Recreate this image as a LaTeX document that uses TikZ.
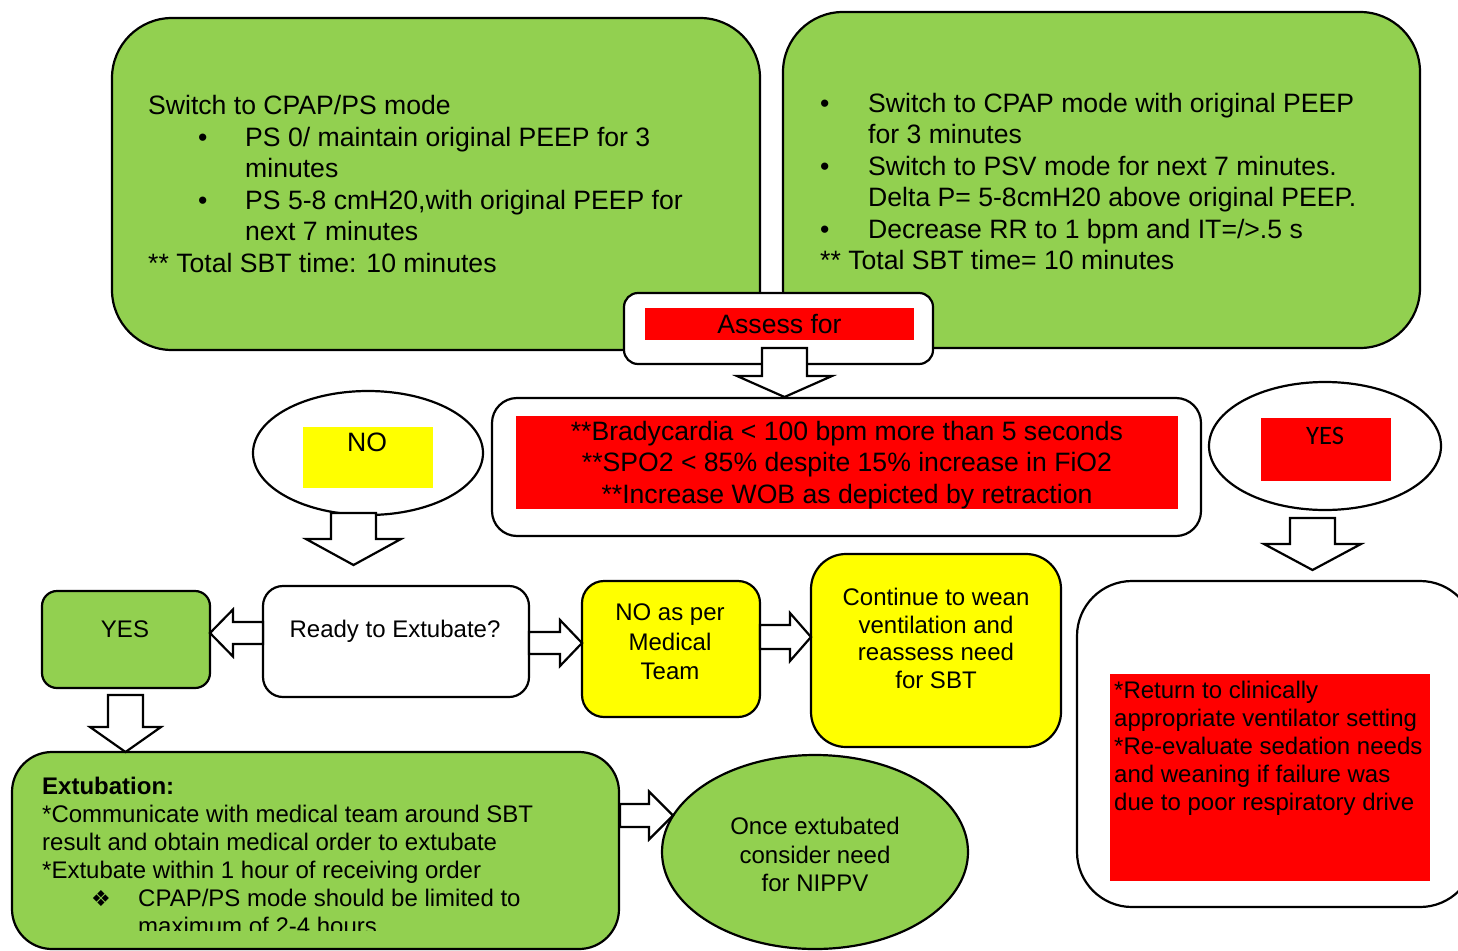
\documentclass[tikz,border=0pt]{standalone}
\usepackage{fontspec}
\setmainfont{Liberation Sans}
\newfontfamily\yesfont{Carlito}
\newfontfamily\dingfont{DejaVu Sans}
\usetikzlibrary{shapes.geometric}
\definecolor{sbtgreen}{RGB}{146,208,80}
\definecolor{sbtred}{RGB}{255,0,0}
\definecolor{sbtyellow}{RGB}{255,255,0}
\tikzset{
  bigtext/.style={font=\fontsize{26.6pt}{31.5pt}\selectfont},
  smalltext/.style={font=\fontsize{24pt}{28pt}\selectfont},
  box/.style={draw, rectangle, line width=2.2pt, inner sep=0pt, outer sep=0pt},
  greenbox/.style={box, fill=sbtgreen},
  redfill/.style={fill=sbtred, inner sep=0pt, outer sep=0pt},
  lbl/.style={inner sep=0pt},
  blkline/.style={draw, fill=white, line width=2.2pt, line join=miter},
  pics/blkarrow/.style n args={4}{code={%
    \draw[blkline] (0,-#2) -- (#1,-#2) -- (#1,-#3) -- ({#1+#4},0) -- (#1,#3) -- (#1,#2) -- (0,#2) -- cycle;
  }},
}
\begin{document}
\begin{tikzpicture}[x=1pt,y=-1pt,line join=miter]
  \useasboundingbox (0,0) rectangle (1458,950);
  \clip (0,0) rectangle (1458,950);
  \fill[white] (0,0) rectangle (1458,950);
%%
  % Node: sbtps
  \node[greenbox, rounded corners=60pt, minimum width=648pt, minimum height=332pt] (sbtps) at (436,184) {};
  \node[lbl, bigtext, align=left, anchor=west] (sbtpstxt) at (148,184) {Switch to CPAP/PS mode\\
    \hspace*{50pt}\makebox[47pt][l]{•}PS 0/ maintain original PEEP for 3\\
    \hspace*{97pt}minutes\\
    \hspace*{50pt}\makebox[47pt][l]{•}PS 5-8 cmH20,with original PEEP for\\
    \hspace*{97pt}next 7 minutes\\
    {}** Total SBT time: 10 minutes};
  % Node: sbtpsv
  \node[greenbox, rounded corners=60pt, minimum width=637pt, minimum height=336pt] (sbtpsv) at (1101.5,180) {};
  \node[lbl, bigtext, align=left, anchor=west] (sbtpsvtxt) at (820,181.5) {\makebox[48pt][l]{•}Switch to CPAP mode with original PEEP\\
    \hspace*{48pt}for 3 minutes\\
    \makebox[48pt][l]{•}Switch to PSV mode for next 7 minutes.\\
    \hspace*{48pt}Delta P= 5-8cmH20 above original PEEP.\\
    \makebox[48pt][l]{•}Decrease RR to 1 bpm and IT=/>.5 s\\
    {}** Total SBT time= 10 minutes};
  % Node: assessbox
  \node[box, fill=white, rounded corners=14pt, minimum width=309pt, minimum height=71pt] (assessbox) at (778.5,328.5) {};
  \node[redfill, bigtext, minimum width=269pt, minimum height=32pt] (assesslbl) at (779.5,324) {Assess for};
  % Node: critbox
  \node[box, fill=white, rounded corners=25pt, minimum width=709pt, minimum height=138pt] (critbox) at (846.5,467) {};
  \node[redfill, minimum width=662pt, minimum height=93pt] (critlbl) at (847,462.5) {};
  \node[lbl, bigtext, align=center] (crittxt) at (847,465) {{}**Bradycardia < 100 bpm more than 5 seconds\\
    {}**SPO2 < 85\% despite 15\% increase in FiO2\\
    {}**Increase WOB as depicted by retraction};
  % Node: noell
  \node[box, ellipse, fill=white, minimum width=230pt, minimum height=124pt] (noell) at (368,453) {};
  \node[redfill, fill=sbtyellow, minimum width=130pt, minimum height=61pt] (nolbl) at (368,457.5) {};
  \node[lbl, bigtext] (notxt) at (367,442) {NO};
  % Node: yesell
  \node[box, ellipse, fill=white, minimum width=232pt, minimum height=128pt] (yesell) at (1325,446) {};
  \node[redfill, minimum width=130pt, minimum height=63pt] (yeslbl) at (1326,449.5) {};
  \node[lbl, font=\yesfont\fontsize{26.6pt}{31.5pt}\selectfont] (yestxt) at (1325,436) {YES};
  % Node: failbox
  \node[box, fill=white, rounded corners=55pt, minimum width=398pt, minimum height=326pt] (failbox) at (1276,744) {};
  \node[redfill, minimum width=320pt, minimum height=207pt] (faillbl) at (1270,777.5) {};
  \node[lbl, smalltext, align=left, anchor=west] (failtxt) at (1114,748) {{}*Return to clinically\\
    appropriate ventilator setting\\
    {}*Re-evaluate sedation needs\\
    and weaning if failure was\\
    due to poor respiratory drive};
  % Node: yesbox
  \node[greenbox, rounded corners=15pt, minimum width=168pt, minimum height=97pt] (yesbox) at (126,639.5) {};
  \node[lbl, smalltext] (yesboxtxt) at (125,629) {YES};
  % Node: readybox
  \node[box, fill=white, rounded corners=20pt, minimum width=266pt, minimum height=111pt] (readybox) at (396,641.5) {};
  \node[lbl, smalltext] (readytxt) at (395,631) {Ready to Extubate?};
  % Node: teambox
  \node[box, fill=sbtyellow, rounded corners=22pt, minimum width=178pt, minimum height=136pt] (teambox) at (671,649) {};
  \node[lbl, font=\fontsize{24pt}{29.5pt}\selectfont, align=center] (teamtxt) at (670,642) {NO as per\\ Medical\\ Team};
  % Node: weanbox
  \node[box, fill=sbtyellow, rounded corners=35pt, minimum width=250pt, minimum height=193pt] (weanbox) at (936,650.5) {};
  \node[lbl, font=\fontsize{24pt}{27.7pt}\selectfont, align=center] (weantxt) at (936,638.5) {Continue to wean\\ ventilation and\\ reassess need\\ for SBT};
  % Node: extbox
  \node[greenbox, rounded corners=40pt, minimum width=607pt, minimum height=197pt] (extbox) at (315.5,850.5) {};
\begin{scope}
  \clip (0,0) rectangle (1458,930);
  \node[lbl, smalltext, align=left, anchor=west] (exttxt) at (42,855.5) {\textbf{Extubation:}\\
    {}*Communicate with medical team around SBT\\
    result and obtain medical order to extubate\\
    {}*Extubate within 1 hour of receiving order\\
    \hspace*{49pt}\makebox[47pt][l]{\dingfont\fontsize{22pt}{28pt}\selectfont ❖}CPAP/PS mode should be limited to\\
    \hspace*{96pt}maximum of 2-4 hours};
\end{scope}
  % Node: nippvell
  \node[greenbox, ellipse, minimum width=306pt, minimum height=194pt] (nippvell) at (815,852) {};
  \node[lbl, font=\fontsize{24pt}{28.5pt}\selectfont, align=center] (nippvtxt) at (815,854.5) {Once extubated\\ consider need\\ for NIPPV};
%%
  % Edge: assessbox -> critbox
  \pic[rotate=-90] at ([xshift=6pt,yshift=16pt]assessbox.south) {blkarrow={28}{22.5}{47.5}{21}};
  % Edge: noell -> readybox
  \pic[rotate=-90] at ([xshift=-14.5pt,yshift=2pt]noell.south) {blkarrow={26}{22.5}{47.5}{26}};
  % Edge: yesell -> failbox
  \pic[rotate=-90] at ([xshift=-12.5pt,yshift=-8pt]yesell.south) {blkarrow={26}{22.5}{48.5}{26}};
  % Edge: readybox -> yesbox
  \pic[rotate=180] at ([yshift=8.5pt]readybox.west) {blkarrow={30}{11}{23.5}{23}};
  % Edge: readybox -> teambox
  \pic at ([yshift=-1.5pt]readybox.east) {blkarrow={31}{11}{23}{22}};
  % Edge: teambox -> weanbox
  \pic at ([yshift=12pt]teambox.east) {blkarrow={30}{12}{24}{21}};
  % Edge: yesbox -> extbox
  \pic[rotate=-90] at ([xshift=-0.5pt,yshift=-7pt]yesbox.south) {blkarrow={32}{17.5}{35.5}{25}};
  % Edge: extbox -> nippvell
  \pic at ([xshift=1pt,yshift=35pt]extbox.east) {blkarrow={29}{11.5}{24}{24}};
%
\end{tikzpicture}
\end{document}
